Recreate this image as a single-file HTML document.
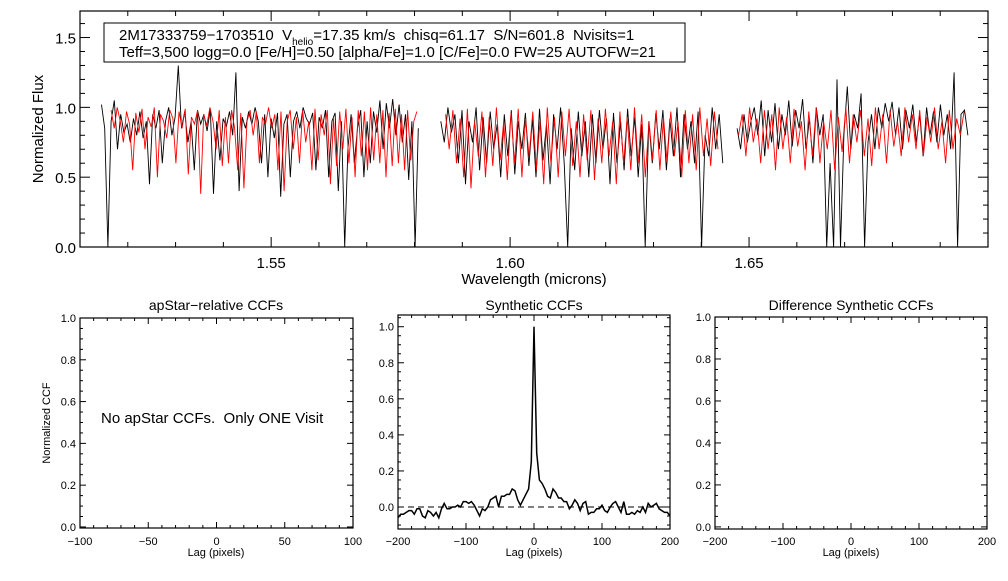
<!DOCTYPE html>
<html><head><meta charset="utf-8"><style>
body{margin:0;background:#fff;width:1008px;height:576px;overflow:hidden}
svg{font-family:"Liberation Sans",sans-serif}
svg text{white-space:pre}
</style></head><body>
<svg id="c" width="1008" height="576" viewBox="0 0 1008 576"></svg>
<script>
// ---- data ----
const chipRangesBlack=[[1.5145,1.5808],[1.5855,1.6445],[1.6475,1.6958]];
const chipRangesRed=[[1.5165,1.5805],[1.5865,1.6435],[1.6478,1.6950]];
const fluxBlack1=[1.02,0.85,0.0,0.9,1.05,0.7,0.95,0.82,0.88,0.75,0.92,0.8,0.97,0.78,0.9,0.45,0.95,0.85,0.98,0.6,0.9,1.0,0.8,0.93,1.3,0.85,0.97,0.75,0.9,0.55,0.98,0.88,0.95,0.83,0.99,0.38,0.9,0.62,0.92,0.86,0.97,0.8,1.25,0.4,0.93,0.85,0.97,0.88,1.0,0.9,0.6,0.95,0.5,0.92,0.78,0.96,0.36,0.88,0.95,0.5,0.9,0.97,0.85,1.0,0.92,0.88,0.96,0.55,0.93,0.85,0.98,0.5,0.9,0.96,0.4,0.9,0.0,0.7,0.95,0.6,0.85,0.98,0.5,0.9,0.6,0.97,0.82,1.05,0.7,1.03,0.85,1.06,0.8,1.02,0.75,0.95,0.48,0.9,0.0,0.85];
const fluxRed1=[0.98,0.85,1.0,0.9,0.75,0.97,0.88,0.55,0.96,0.82,0.99,0.7,0.93,0.86,1.0,0.5,0.95,0.9,0.78,0.98,0.92,0.6,0.97,0.85,0.99,0.52,0.93,0.88,0.98,0.38,0.95,0.87,1.0,0.9,0.7,0.98,0.58,0.93,0.6,0.98,0.85,0.55,0.96,0.42,0.9,0.98,0.8,0.97,0.6,0.93,0.88,1.0,0.85,0.95,0.55,0.97,0.4,0.9,0.98,0.7,0.93,0.6,0.98,0.75,0.9,0.55,0.99,0.62,0.95,0.8,0.98,0.45,0.92,0.58,0.97,0.7,0.99,0.6,0.93,0.5,0.98,0.65,0.97,0.55,1.0,0.62,0.95,0.6,0.98,0.5,0.96,0.58,0.99,0.6,0.95,0.55,0.98,0.62,0.9,0.97];
const fluxBlack2=[0.9,0.75,1.0,0.82,0.95,0.6,0.98,0.45,0.9,0.75,1.0,0.55,0.93,0.6,0.97,0.7,0.88,0.5,0.95,0.65,0.98,0.52,0.9,0.7,0.96,0.58,0.92,0.5,0.99,0.62,0.88,0.45,0.95,0.7,1.0,0.6,0.0,0.85,0.55,0.97,0.65,0.9,0.5,0.95,0.6,0.98,0.7,0.92,0.45,0.96,0.6,0.9,0.55,0.99,0.65,0.93,0.5,0.88,0.0,0.9,0.6,0.96,0.7,0.98,0.55,0.92,0.65,1.0,0.5,0.95,0.7,0.9,0.6,0.97,0.0,0.8,0.65,1.0,0.7,0.95,0.6];
const fluxRed2=[0.95,0.7,0.98,0.6,0.92,0.5,0.99,0.42,0.9,0.65,0.97,0.5,0.93,0.58,1.0,0.62,0.9,0.48,0.96,0.6,0.99,0.5,0.92,0.65,0.97,0.55,0.9,0.45,1.0,0.6,0.93,0.5,0.97,0.65,0.99,0.58,0.9,0.5,0.95,0.62,0.98,0.48,0.92,0.6,0.99,0.65,0.9,0.45,0.97,0.6,0.93,0.55,1.0,0.6,0.95,0.5,0.9,0.62,0.98,0.55,0.93,0.6,0.97,0.65,0.9,0.5,0.98,0.6,0.95,0.55,1.0,0.65,0.92,0.58,0.97,0.7];
const fluxBlack3=[0.85,0.7,0.95,0.75,0.9,1.0,0.8,1.05,0.65,0.98,0.75,1.03,0.7,0.95,0.8,1.05,0.72,0.98,0.85,1.06,0.7,0.92,0.6,1.0,0.8,0.95,0.0,0.6,0.0,1.2,0.0,0.8,1.15,0.7,0.95,0.85,1.1,0.0,0.75,0.95,0.7,1.0,0.85,1.03,0.9,1.04,0.8,1.0,0.7,0.98,0.85,1.02,0.75,0.95,0.65,1.0,0.8,0.97,0.75,1.02,0.8,0.95,0.7,1.25,0.0,0.95,0.98,0.8];
const fluxRed3=[0.8,0.95,0.65,1.0,0.75,0.92,0.6,0.98,0.7,0.95,0.55,1.0,0.7,0.93,0.6,0.99,0.72,0.9,0.55,0.97,0.65,1.0,0.6,0.9,0.7,0.98,0.55,0.93,0.68,1.0,0.6,0.95,0.75,0.98,0.65,0.92,0.58,1.0,0.7,0.95,0.6,0.98,0.72,0.9,0.65,1.0,0.75,0.95,0.7,0.98,0.65,0.93,0.75,1.0,0.7,0.9,0.6,0.98,0.7,0.92,0.8,0.97];
const ccfValues=[-0.06,-0.04,-0.04,-0.03,-0.02,-0.02,-0.04,-0.01,-0.01,-0.05,-0.06,-0.02,-0.03,-0.05,-0.03,-0.06,-0.01,0.02,-0.01,-0.01,0.0,0.0,0.01,0.0,0.03,0.03,0.02,0.03,0.01,-0.02,-0.05,-0.01,-0.02,0.0,0.04,0.05,0.06,0.0,0.06,0.06,0.07,0.07,0.1,0.09,0.04,0.01,0.04,0.07,0.1,0.25,1.0,0.3,0.15,0.13,0.1,0.06,0.05,0.1,0.08,0.05,0.05,0.03,0.03,-0.01,0.01,0.04,0.02,-0.02,0.02,0.03,-0.04,-0.03,-0.03,-0.01,-0.01,0.01,-0.02,-0.03,0.0,0.02,0.03,0.0,-0.03,0.03,-0.04,-0.04,-0.03,-0.04,-0.02,-0.03,0.0,-0.03,0.02,0.0,0.01,0.02,-0.01,-0.02,-0.03,-0.03,-0.05];
const ccfLagStart=-200, ccfLagStep=4;
const topYTicks=["0.0","0.5","1.0","1.5"];
const topXTicks=["1.55","1.60","1.65"];
const ccfYTicks=["0.0","0.2","0.4","0.6","0.8","1.0"];

const S=document.getElementById('c');const NS='http://www.w3.org/2000/svg';
function mk(t,a,p){const e=document.createElementNS(NS,t);for(const k in a)e.setAttribute(k,a[k]);(p||S).appendChild(e);return e;}
function txt(x,y,s,size,anchor,name,rot){const e=mk('text',{x:x,y:y,'font-size':size,'text-anchor':anchor||'middle',fill:'#000'});if(rot)e.setAttribute('transform','rotate(-90 '+x+' '+y+')');e.textContent=s;


return e;}
function line(x1,y1,x2,y2,name,extra){const e=mk('line',Object.assign({x1:x1,y1:y1,x2:x2,y2:y2,stroke:'#000','stroke-width':1},extra||{}));


return e;}
function axes(L,T,R,B,xmin,xmax,ymin,ymax,xMaj,xMin,yMaj,yMin,majLen,minLen,name){
 const sx=v=>L+(v-xmin)/(xmax-xmin)*(R-L), sy=v=>B-(v-ymin)/(ymax-ymin)*(B-T);
 const r=mk('rect',{x:L,y:T,width:R-L,height:B-T,fill:'none',stroke:'#000','stroke-width':1.2});
 
 
 const e=1e-9;
 const nx0=Math.ceil((xmin-e)/xMin), nx1=Math.floor((xmax+e)/xMin);
 for(let n=nx0;n<=nx1;n++){const v=n*xMin;const isM=Math.abs(v/xMaj-Math.round(v/xMaj))<1e-6;const l=isM?majLen:minLen;const x=sx(v);
  line(x,B,x,B-l,name+'-x-tick');line(x,T,x,T+l,name+'-x-tick-top');}
 const ny0=Math.ceil((ymin-e)/yMin), ny1=Math.floor((ymax+e)/yMin);
 for(let n=ny0;n<=ny1;n++){const v=n*yMin;const isM=Math.abs(v/yMaj-Math.round(v/yMaj))<1e-6;const l=isM?majLen:minLen;const y=sy(v);
  line(L,y,L+l,y,name+'-y-tick');line(R,y,R-l,y,name+'-y-tick-right');}
 return {sx,sy};
}
// ---- top panel ----
const topAx=axes(80,11,988,247,1.51,1.70,0,1.69,0.05,0.01,0.5,0.1,10,5,'spectrum');
topYTicks.forEach(t=>txt(76,topAx.sy(parseFloat(t))+6,t,15,'end','y-tick-label'));
topXTicks.forEach(t=>txt(topAx.sx(parseFloat(t)),268,t,15,'middle','x-tick-label'));
txt(534,284,'Wavelength (microns)',15,'middle','x-axis-title');
txt(43,129,'Normalized Flux',15,'middle','y-axis-title',true);
const clip=mk('clipPath',{id:'cp'});mk('rect',{x:80,y:11,width:908,height:236},clip);
function spec(arr,rng,color,name){const pts=arr.map((v,i)=>topAx.sx(rng[0]+(rng[1]-rng[0])*i/(arr.length-1)).toFixed(1)+','+topAx.sy(v).toFixed(1)).join(' ');
 const p=mk('polyline',{points:pts,fill:'none',stroke:color,'stroke-width':0.9,'clip-path':'url(#cp)'});
 
 }
[fluxBlack1,fluxBlack2,fluxBlack3].forEach((a,i)=>spec(a,chipRangesBlack[i],'#000','observed-spectrum-chip'+(i+1)));
[fluxRed1,fluxRed2,fluxRed3].forEach((a,i)=>spec(a,chipRangesRed[i],'#f00','model-spectrum-chip'+(i+1)));
const lb=mk('rect',{x:104,y:23,width:581,height:39,fill:'#fff',stroke:'#000','stroke-width':1});


const t1=mk('text',{x:119,y:40,'font-size':15,fill:'#000'});


const ts1=mk('tspan',{},t1);ts1.textContent='2M17333759−1703510  V';
const ts2=mk('tspan',{'font-size':10,dy:5},t1);ts2.textContent='helio';
const ts3=mk('tspan',{dy:-5},t1);ts3.textContent='=17.35 km/s  chisq=61.17  S/N=601.8  Nvisits=1';
txt(119,57,'Teff=3,500 logg=0.0 [Fe/H]=0.50 [alpha/Fe]=1.0 [C/Fe]=0.0 FW=25 AUTOFW=21',15,'start','info-line-2');
// ---- bottom panels ----
const p1=axes(80,318,353,528,-100,100,-0.005,1.0,50,10,0.2,0.05,6,3,'apstar-ccf');
ccfYTicks.forEach(t=>txt(76,p1.sy(parseFloat(t))+4,t,11,'end','y-tick-label'));
[-100,-50,0,50,100].forEach(v=>txt(p1.sx(v),545,v<0?'−'+(-v):String(v),11,'middle','x-tick-label'));
txt(216,310,'apStar−relative CCFs',14,'middle','panel-title');
txt(216,556,'Lag (pixels)',11,'middle','x-axis-title');
txt(50,423,'Normalized CCF',11,'middle','y-axis-title',true);
txt(101,423,'No apStar CCFs.  Only ONE Visit',15,'start','no-ccf-message');

const p2=axes(398,315,670,529,-200,200,-0.122,1.065,100,20,0.2,0.05,6,3,'synthetic-ccf');
ccfYTicks.forEach(t=>txt(394,p2.sy(parseFloat(t))+4,t,11,'end','y-tick-label'));
[-200,-100,0,100,200].forEach(v=>txt(p2.sx(v),545,v<0?'−'+(-v):String(v),11,'middle','x-tick-label'));
txt(534,310,'Synthetic CCFs',14,'middle','panel-title');
txt(534,556,'Lag (pixels)',11,'middle','x-axis-title');
line(p2.sx(-200),p2.sy(0),p2.sx(200),p2.sy(0),'zero-line',{'stroke-dasharray':'6,4'});
const cpts=ccfValues.map((v,i)=>p2.sx(ccfLagStart+ccfLagStep*i).toFixed(1)+','+p2.sy(v).toFixed(1)).join(' ');
const cl=mk('polyline',{points:cpts,fill:'none',stroke:'#000','stroke-width':1.5});



const p3=axes(715,317,987,529,-200,200,-0.01,1.0,100,20,0.2,0.05,6,3,'difference-ccf');
ccfYTicks.forEach(t=>txt(711,p3.sy(parseFloat(t))+4,t,11,'end','y-tick-label'));
[-200,-100,0,100,200].forEach(v=>txt(p3.sx(v),545,v<0?'−'+(-v):String(v),11,'middle','x-tick-label'));
txt(851,310,'Difference Synthetic CCFs',14,'middle','panel-title');
txt(851,556,'Lag (pixels)',11,'middle','x-axis-title');
</script>
</body></html>
